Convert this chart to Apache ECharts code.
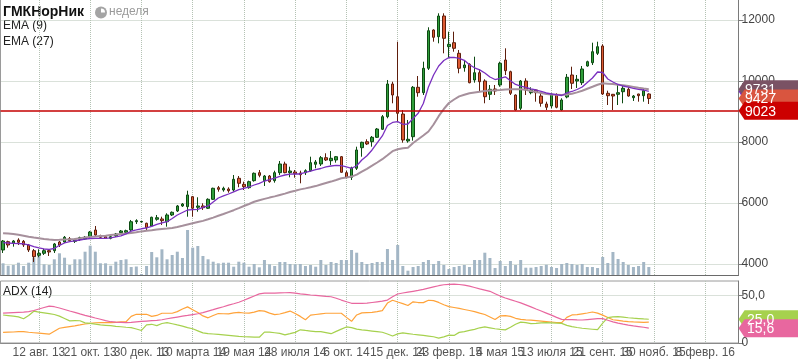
<!DOCTYPE html>
<html><head><meta charset="utf-8">
<script src="https://cdn.jsdelivr.net/npm/echarts@6/dist/echarts.min.js"></script>
<style>html,body{margin:0;padding:0;background:#fff}#c{width:798px;height:363px}</style>
</head><body><div id="c"></div><script>
// ---- data (weekly candles, 24 June 2013 .. 23 Nov 2015) ----
const opens = [4459,4731,4679,4787,4744,4623,4436,4286,4351,4436,4436,4721,4721,4830,4744,4810,4820,4895,5115,4928,4895,4843,4928,5026,5039,5115,5387,5377,5335,5246,5466,5476,5387,5607,5738,5902,5879,6207,5859,5902,5827,6121,6502,6426,6459,6426,6810,6613,6502,6732,6994,6732,6885,6732,6994,7279,6994,7017,6984,6994,7059,7269,7279,7485,7387,7410,7518,6994,6843,7138,7813,8010,8010,8154,8417,8830,9902,9485,8918,8033,8174,9794,9617,10417,11672,11453,12131,11125,11256,10908,10436,10548,10033,10272,10000,9564,9738,9869,10689,10305,9541,9105,10000,9617,9705,9508,9246,9181,9541,9049,9476,10197,10000,9944,10492,10600,10908,11148,9597,9564,9564,9649,9728,9453,9574,9518,9574];
const closes = [4754,4623,4754,4712,4623,4459,4240,4351,4436,4394,4656,4623,4876,4764,4787,4863,4876,5049,4951,4876,4843,4895,4984,5082,5092,5387,5420,5394,5190,5532,5518,5420,5607,5695,5902,5967,6263,5827,5902,5846,6121,6482,6449,6482,6403,6777,6646,6535,6699,6974,6908,6885,6699,6994,7279,6994,7049,6961,6928,7059,7322,7345,7485,7410,7466,7518,7007,6843,7148,7738,7990,7935,8154,8426,8830,9902,9541,8941,8066,8089,9794,9617,10417,11649,11433,12131,11400,11204,11072,10417,10525,9944,10272,9977,9485,9728,9672,10581,10338,9597,9049,10000,9705,9705,9617,9269,9138,9574,9138,9377,10122,9925,10056,10394,10633,10961,11125,9574,9518,9508,9617,9761,9508,9508,9518,9682,9427];
const lows = [4361,4535,4568,4623,4558,4394,4066,4220,4295,4263,4361,4558,4689,4721,4689,4754,4787,4853,4895,4853,4820,4810,4885,4984,5017,5082,5312,5361,5115,5223,5420,5279,5223,5574,5705,5870,5551,5551,5715,5771,5803,6099,6371,6371,6338,6371,6515,6426,6469,6699,6843,6558,6666,6666,6918,6974,6843,6830,6646,6918,7026,7138,7213,7377,7246,7322,6994,6810,6754,7082,7518,7902,7846,8131,8394,8777,9269,8666,7977,7977,8043,9485,9541,10361,11289,11236,10908,10745,10961,10253,10305,9925,9944,9649,9269,9377,9541,9813,10197,9541,9027,9049,9541,9564,9322,9158,9049,9105,9105,9023,9433,9738,9771,9869,10469,10525,10853,9541,9213,9049,9213,9269,9485,9345,9322,9322,9246];
const highs = [4787,4764,4787,4843,4787,4656,4492,4482,4492,4482,4689,4754,4918,4885,4830,4895,4918,5082,5246,4960,4928,4928,5017,5115,5125,5443,5466,5410,5354,5551,5607,5551,5662,5722,5935,6000,6403,6230,6187,5990,6154,6502,6558,6535,6515,6918,6885,6699,6732,7000,7082,6918,6918,7059,7377,7354,7190,7082,7059,7105,7518,7410,7541,7630,7705,7541,7541,7059,7190,7846,8010,8089,8197,8459,8885,10033,9977,11289,9049,8722,9836,10164,10633,11761,11695,12220,12220,11617,11617,11017,10689,10581,10797,10384,10056,9869,9869,10633,11072,10338,9560,10033,10089,9794,9728,9617,9322,9597,9597,9433,10230,10469,10197,10492,10666,11256,11289,11204,9682,9574,9869,9836,9794,9541,9580,9761,9597];
const volumes = [1170,930,1000,1230,900,1230,1730,2070,1070,1000,1570,2170,1730,1000,1570,1570,2330,2930,2330,1170,1170,930,1330,1500,1570,800,850,100,900,2300,1770,2570,1570,2000,2330,1700,4500,2730,2900,1900,1570,1330,1170,1230,1230,830,1330,1230,830,1100,770,1500,1070,900,1300,1300,1100,1070,1100,900,1000,830,1500,1000,1300,1200,1500,1500,2500,2230,1300,1100,1200,1300,1300,2600,1500,3000,900,430,800,900,1300,1500,1100,1400,1000,600,800,900,1000,800,1500,1500,2230,1700,700,1400,900,1400,1000,1500,730,730,800,900,1030,800,700,1100,1200,1100,1000,1100,800,800,700,1800,1200,2300,1600,1300,1000,800,900,1300,800];
const ema9 = [4699,4689,4679,4669,4663,4623,4568,4525,4492,4482,4508,4613,4689,4731,4761,4787,4813,4836,4843,4843,4843,4859,4892,4925,4984,5076,5115,5155,5181,5230,5296,5345,5387,5492,5607,5689,5771,5784,5794,5853,5902,6033,6164,6230,6295,6367,6436,6482,6525,6590,6646,6721,6767,6813,6876,6918,6945,6951,6951,7000,7049,7095,7131,7181,7213,7236,7226,7181,7138,7220,7410,7551,7738,7968,8197,8541,8640,8666,8581,8590,8771,8941,9263,9804,10197,10492,10672,10771,10777,10745,10679,10531,10433,10364,10263,10131,10049,10089,10138,10007,9886,9836,9787,9745,9705,9656,9607,9574,9554,9525,9607,9656,9722,9804,9951,10099,10295,10279,10066,9968,9886,9836,9797,9761,9728,9705,9656];
const ema27 = [5007,5000,4984,4958,4925,4892,4866,4843,4820,4800,4787,4794,4804,4810,4823,4843,4866,4889,4902,4915,4928,4948,4964,4984,5000,5020,5039,5069,5089,5108,5128,5148,5164,5181,5213,5253,5296,5335,5374,5413,5466,5521,5581,5640,5702,5764,5830,5902,5967,6040,6089,6135,6177,6217,6263,6308,6358,6400,6446,6479,6515,6554,6604,6653,6702,6754,6810,6836,6866,6931,7027,7122,7223,7328,7436,7567,7699,7761,7797,7813,7968,8089,8213,8345,8574,8846,9082,9279,9394,9495,9548,9597,9623,9646,9669,9686,9695,9708,9722,9728,9728,9728,9712,9672,9643,9610,9577,9561,9551,9541,9558,9584,9627,9679,9745,9810,9876,9925,9912,9899,9879,9859,9836,9807,9777,9751,9731];
const adx = [31.4,31.7,32,32.3,32.6,33,34.2,35.8,37.4,38.8,38.2,36.8,35.3,33.7,32.2,30.6,29.1,27.7,26.3,25,23.6,22.4,22,21.7,21.4,21.8,22.3,22.7,23.1,23.5,23.9,24.5,25.5,26.4,27.3,28.2,29,29.9,30.8,32,33.6,35.1,36.7,38.2,39.8,41.3,42.9,45,47.2,49.4,51.7,52.4,52.5,52.6,52.8,52.9,53,52.5,51.8,51.2,50.5,50.1,49.6,49.1,48.7,47.1,45.2,43.4,41.8,41.8,41.8,41.9,42.6,43.3,44,45.2,48.6,51.6,52.6,53.5,54.4,55.3,56.4,57.7,59,60.3,61.3,61.8,61.9,61.6,61,59.8,58.4,57,55.7,54.4,51.9,49.4,47.4,45.6,43.9,42.2,40.1,38,35.8,33.7,31.5,29.3,27,24.9,24.7,24.5,24.3,24.2,24.7,25.2,25.6,25.7,23.9,22.2,21,19.9,18.9,18,17.3,16.6,15.6];
const plusDI = [11.2,11.4,11.6,11.9,12,11.3,10.8,10.3,9.8,9.3,12.4,15.5,16.4,17.3,18.1,19,20,20.7,21.3,21.4,21.4,21.4,21.8,22.2,22.4,28,30.2,30.2,30.2,28,29,31.3,31.3,31.3,33,35.8,38,35,32,28.5,26.5,29,31,30.8,30.6,31.7,32.2,31.6,31.5,32.5,34,33.5,31.5,29.8,30.5,32,33.6,31,28,24.5,29.3,30,30.7,31.3,31.3,31.3,31.3,27,22.8,29.5,31.7,32,32.3,33,34,42,45,43.2,41.5,39.5,43.3,42.6,42.5,45,44.6,42.7,40.3,38.3,37.4,36.4,35.3,34.2,33.1,31.5,30,27.4,24.8,28.5,28.9,28,26,24.8,24.4,24.1,23.6,23.1,22.6,22.1,21.6,21.5,27,29.5,29.8,30.7,31.6,32.6,31.4,29.3,26.9,24.5,23.8,23.1,22.5,22.2,22,21.8,22];
const minusDI = [29.5,28.9,28.2,27.5,25.5,29,33.5,32.5,31.8,31,30,28.3,25.8,23.3,23.5,23.4,21.2,20.6,19.8,19,18.6,18.2,17.6,17.1,16.6,16.2,14.7,13.2,19,19.7,18.3,20.5,21.5,20.3,19,17.8,16.2,15,12.8,10.6,9.9,9.5,9,8.5,8,7.5,7,6.6,6.4,6.2,6.1,11.5,11.4,10.8,10.2,8.6,9.8,11.2,13.9,13.2,12.6,12,11.9,10.9,9.8,12.2,14.6,16.9,16.2,14.6,13.8,13.2,12.6,12,11.3,9.5,7.3,9.6,10.6,9.9,9.2,8.6,8,7.3,6.6,5.2,6.5,8.3,8,11.2,12,13.3,14.4,16,17,16,15,14.3,13.8,16.6,19.8,22,21.4,20.4,20.6,21.2,21.4,21.2,21,20.7,18.6,17.2,16.3,15.5,15,14.5,14,21,26.8,27.4,27.7,27.2,26.6,26.1,25.7,25.3,25];
const levelPrice = 9023;
const tickLabels = ['12 авг. 13','21 окт. 13','30 дек. 13','10 марта 14','19 мая 14','28 июля 14','6 окт. 14','15 дек. 14','23 февр. 15','4 мая 15','13 июля 15','21 сент. 15','30 нояб. 15','8 февр. 16'];
const WEEKS = 144, FIRST_TICK = 7, TICK_STEP = 10;
const categories = [];
for (let i = 0; i < WEEKS; i++) {
  const d = new Date(Date.UTC(2013, 5, 24) + i * 7 * 86400000);
  categories.push(d.toISOString().slice(0, 10));
}
// ---- chart ----
const FONT = '"Liberation Sans", Arial, sans-serif';
const GRID_L = 0.5, GRID_W = 738;
const GRID_LINE = '#b4c2b4';
const isTick = (i) => i >= FIRST_TICK && (i - FIRST_TICK) % TICK_STEP === 0;
const tickNo = (i) => (i - FIRST_TICK) / TICK_STEP;
const candleData = opens.map((o, i) => [o, closes[i], lows[i], highs[i]]);
const last = closes.length - 1;
const fmtComma = (v) => v.toFixed(1).replace('.', ',');
const TAG_PATH = 'path://M0,9L6,0L64,0L64,18L6,18Z';
function tagSeries(axisIdx, z, y, text, color) {
  return { type: 'line', xAxisIndex: axisIdx, yAxisIndex: axisIdx === 0 ? 0 : 2, data: [], symbol: 'none', z: z, clip: false, silent: true,
    markPoint: { silent: true, animation: false, data: [{ coord: [WEEKS - 1, y], symbol: TAG_PATH, symbolSize: [64, 18], symbolOffset: [34.6, 0],
      itemStyle: { color: color }, label: { show: text !== '', position: 'inside', formatter: text, color: '#fff',
      fontSize: 14, fontFamily: FONT, offset: [-10, 1] } }] } };
}
// parity: 0 -> even tick labels, 1 -> odd tick labels, -1 -> no labels
function xAxisFor(gridIndex, parity, lineColor, showSplit) {
  const showLabel = (i) => isTick(i) && parity >= 0 && tickNo(i) % 2 === parity;
  return {
    type: 'category', gridIndex: gridIndex, data: categories, boundaryGap: true, position: 'bottom',
    axisLine: { show: !!lineColor, lineStyle: { color: lineColor || '#888', width: 1 } },
    axisTick: { show: false },
    axisLabel: { show: parity >= 0, interval: (i) => showLabel(i), hideOverlap: false,
      color: '#555', fontSize: 12, fontFamily: FONT, margin: 4,
      formatter: (v) => { const i = categories.indexOf(v); return showLabel(i) ? tickLabels[tickNo(i)] || '' : ''; } },
    splitLine: { show: !!showSplit, alignWithLabel: true, interval: (i) => isTick(i),
      lineStyle: { color: GRID_LINE, width: 1, type: 'dotted' } }
  };
}
const chart = echarts.init(document.getElementById('c'), null, { renderer: 'canvas', devicePixelRatio: 1 });
chart.setOption({
  animation: false,
  backgroundColor: '#ffffff',
  textStyle: { fontFamily: FONT },
  grid: [
    { left: GRID_L, width: GRID_W, top: 0, height: 275, show: false },
    { left: GRID_L, width: GRID_W, top: 230, height: 45, show: false },
    { left: GRID_L, width: GRID_W, top: 281, height: 62, show: true, borderColor: '#9a9a9a', borderWidth: 1 }
  ],
  xAxis: [
    xAxisFor(0, -1, '#6a6a6a', true),
    Object.assign(xAxisFor(1, -1, null, false), { show: false }),
    xAxisFor(2, 0, '#8a8a8a', true),
    xAxisFor(2, 1, null, false)
  ],
  yAxis: [
    { type: 'value', gridIndex: 0, position: 'right', min: 3639, max: 12656, splitNumber: 5,
      axisLine: { show: true, lineStyle: { color: '#7a7a7a' } },
      axisTick: { show: true, length: 5, lineStyle: { color: '#7a7a7a' } },
      axisLabel: { color: '#444', fontSize: 12, fontFamily: FONT, margin: 3, showMinLabel: false, showMaxLabel: false,
        formatter: (v) => String(Math.round(v)) },
      splitLine: { show: true, showMinLine: false, showMaxLine: false, lineStyle: { color: GRID_LINE, width: 1, type: 'dotted' } } },
    { type: 'value', gridIndex: 1, min: 0, max: 4500, show: false, splitLine: { show: false } },
    { type: 'value', gridIndex: 2, position: 'right', min: 0, max: 65.26, interval: 50,
      axisLine: { show: true, lineStyle: { color: '#7a7a7a' } },
      axisTick: { show: true, length: 5, lineStyle: { color: '#7a7a7a' } },
      axisLabel: { color: '#444', fontSize: 12, fontFamily: FONT, margin: 3, showMinLabel: true, showMaxLabel: false,
        formatter: (v) => v === 0 ? '0' : fmtComma(v) },
      splitLine: { show: true, showMinLine: false, showMaxLine: false, lineStyle: { color: GRID_LINE, width: 1, type: 'dotted' } } },
    { type: 'value', gridIndex: 0, position: 'left', min: 3639, max: 12656, axisLine: { show: true, lineStyle: { color: '#9a9a9a' } },
      axisTick: { show: false }, axisLabel: { show: false }, splitLine: { show: false } }
  ],
  series: [
    { name: 'volume', type: 'bar', xAxisIndex: 1, yAxisIndex: 1, data: volumes, barWidth: 3, z: 1,
      itemStyle: { color: '#a3b6c5' } },
    { name: 'ГМКНорНик', type: 'candlestick', xAxisIndex: 0, yAxisIndex: 0, data: candleData, barWidth: 3, z: 3,
      itemStyle: { color: '#2f9e3a', color0: '#dd5a32', borderColor: '#0d4a12', borderColor0: '#5e1e0c', borderWidth: 1 } },
    { name: 'EMA (27)', type: 'line', xAxisIndex: 0, yAxisIndex: 0, data: ema27, symbol: 'none', z: 4,
      lineStyle: { color: '#a6909c', width: 2 } },
    { name: 'EMA (9)', type: 'line', xAxisIndex: 0, yAxisIndex: 0, data: ema9, symbol: 'none', z: 4,
      lineStyle: { color: '#7a30c0', width: 1.3 } },
    { name: 'level', type: 'line', xAxisIndex: 0, yAxisIndex: 0, data: [], symbol: 'none', z: 5,
      markLine: { silent: true, symbol: 'none', label: { show: false }, animation: false,
        lineStyle: { color: '#c40000', width: 1.5, type: 'solid' }, data: [{ yAxis: levelPrice }] } },
    tagSeries(0, 6, ema9[last], '', '#7a30c0'),
    tagSeries(0, 7, ema27[last], String(ema27[last]), '#7a5264'),
    tagSeries(0, 8, closes[last], String(closes[last]), '#d9553f'),
    tagSeries(0, 9, levelPrice, String(levelPrice), '#cc0000'),
    { name: '+DI', type: 'line', xAxisIndex: 2, yAxisIndex: 2, data: plusDI, symbol: 'none',
      lineStyle: { color: '#ffa33a', width: 1.2 } },
    { name: '-DI', type: 'line', xAxisIndex: 2, yAxisIndex: 2, data: minusDI, symbol: 'none',
      lineStyle: { color: '#a6d14e', width: 1.2 } },
    { name: 'ADX', type: 'line', xAxisIndex: 2, yAxisIndex: 2, data: adx, symbol: 'none',
      lineStyle: { color: '#e8679f', width: 1.2 } },
    tagSeries(2, 7, minusDI[last], fmtComma(minusDI[last]), '#a6d14e'),
    tagSeries(2, 8, adx[last], fmtComma(adx[last]), '#e8679f')
  ],
  graphic: [
    { type: 'text', left: 3, top: 5, style: { text: 'ГМКНорНик', font: 'bold 14px ' + FONT, fill: '#111' } },
    { type: 'circle', shape: { cx: 101, cy: 12.5, r: 6 }, style: { fill: '#a4a4a4' } },
    { type: 'sector', shape: { cx: 101, cy: 12.5, r: 4, r0: 0, startAngle: -Math.PI / 2, endAngle: 0 }, style: { fill: '#ffffff' } },
    { type: 'text', left: 109, top: 6, style: { text: 'неделя', font: '12px ' + FONT, fill: '#9a9a9a' } },
    { type: 'text', left: 3, top: 20, style: { text: 'EMA (9)', font: '12px ' + FONT, fill: '#222' } },
    { type: 'text', left: 3, top: 36, style: { text: 'EMA (27)', font: '12px ' + FONT, fill: '#222' } },
    { type: 'text', left: 3, top: 286, style: { text: 'ADX (14)', font: '12px ' + FONT, fill: '#222' } }
  ]
});
</script></body></html>
